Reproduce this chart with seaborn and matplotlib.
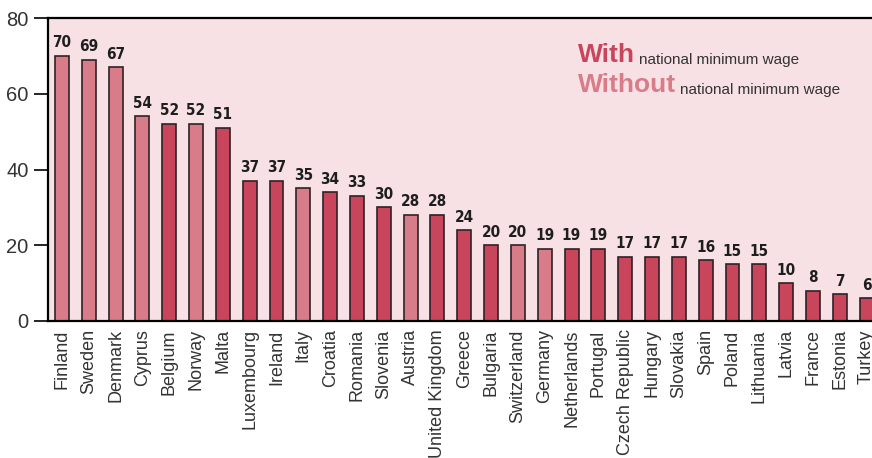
import matplotlib
matplotlib.use("Agg")
import matplotlib.pyplot as plt
import seaborn as sns
import pandas as pd

countries = ["Finland", "Sweden", "Denmark", "Cyprus", "Belgium", "Norway", "Malta",
             "Luxembourg", "Ireland", "Italy", "Croatia", "Romania", "Slovenia", "Austria",
             "United Kingdom", "Greece", "Bulgaria", "Switzerland", "Germany", "Netherlands",
             "Portugal", "Czech Republic", "Hungary", "Slovakia", "Spain", "Poland",
             "Lithuania", "Latvia", "France", "Estonia", "Turkey"]
values = [70, 69, 67, 54, 52, 52, 51, 37, 37, 35, 34, 33, 30, 28, 28, 24, 20, 20, 19, 19,
          19, 17, 17, 17, 16, 15, 15, 10, 8, 7, 6]
without_mw = {"Finland", "Sweden", "Denmark", "Cyprus", "Norway", "Italy", "Austria",
              "Switzerland", "Germany"}
status = ["Without" if c in without_mw else "With" for c in countries]

dark = "#c8455c"
light = "#d97c89"
bg = "#f7e1e4"

df = pd.DataFrame({"country": countries, "value": values, "status": status})

sns.set_theme(style="white")
plt.rcParams["font.family"] = ["Liberation Sans", "DejaVu Sans"]

fig = plt.figure(figsize=(8.72, 4.58), dpi=100)
ax = fig.add_axes([48 / 872, 1 - 321 / 458, (880 - 48) / 872, (321 - 18) / 458])
ax.set_facecolor(bg)

sns.barplot(data=df, x="country", y="value", hue="status",
            palette={"With": dark, "Without": light}, dodge=False, width=0.52,
            saturation=1, edgecolor="#2e2226", linewidth=1.2, legend=False, ax=ax)

for cont in ax.containers:
    ax.bar_label(cont, padding=4, fontsize=11, fontweight="bold",
                 family="DejaVu Sans", fontstretch="condensed", color="#1e1e1e")

ax.set_ylim(0, 80)
ax.set_xlim(-0.52, 30.5)
ax.set_yticks([0, 20, 40, 60, 80])
ax.tick_params(axis="y", length=10, width=1.2, color="black", labelsize=14.5,
               labelcolor="#333333", left=True, pad=4)
ax.tick_params(axis="x", length=0, labelsize=13, labelcolor="#333333", pad=6)
plt.setp(ax.get_xticklabels(), rotation=90)
ax.set_xlabel("")
ax.set_ylabel("")

for side in ["left", "top", "bottom"]:
    ax.spines[side].set_color("black")
    ax.spines[side].set_linewidth(1.6)
ax.spines["right"].set_visible(False)

# legend drawn as text pairs: bold keyword followed by description
for word, color, base_y in [("With", dark, 62), ("Without", light, 92)]:
    key = fig.text(578 / 872, 1 - base_y / 458, word, color=color, fontsize=19,
                   fontweight="bold", ha="left", va="baseline")
    ax.annotate("national minimum wage", xy=(1, 0), xycoords=key,
                xytext=(3, 0), textcoords="offset points", color="#333333",
                fontsize=11, ha="left", va="bottom")

fig.savefig("out.png", dpi=100)
